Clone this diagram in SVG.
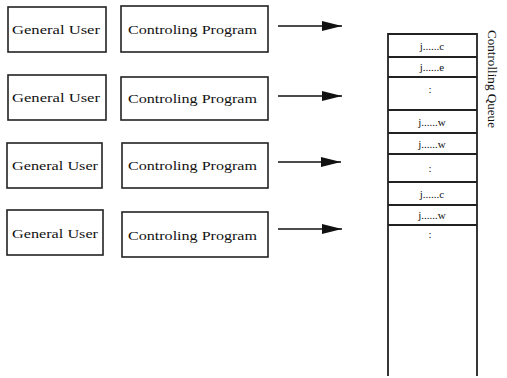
<svg xmlns="http://www.w3.org/2000/svg" width="507" height="378" viewBox="0 0 507 378">
<style>
.box{fill:#fff;stroke:#222;stroke-width:1.6}
.t{font-family:"Liberation Serif",serif;font-size:13px;fill:#111}
.q{font-family:"Liberation Serif",serif;font-size:11px;fill:#111;text-anchor:middle}
.conn{stroke:#111;stroke-width:1.6;fill:none}
.qline{stroke:#222;stroke-width:1.8;fill:none}
</style>
<defs>
<marker id="ah" markerWidth="20" markerHeight="10" refX="20" refY="5" orient="auto" markerUnits="userSpaceOnUse">
<path d="M0,0 L20,5 L0,10 Z" fill="#111"/>
</marker>
</defs>
<rect width="507" height="378" fill="#fff"/>
<g id="user1"><rect class="box" x="8" y="7" width="98" height="45"/><text class="t" x="12" y="34" textLength="88" lengthAdjust="spacingAndGlyphs">General User</text></g>
<g id="prog1"><rect class="box" x="121" y="6" width="147" height="46"/><text class="t" x="128" y="34" textLength="129" lengthAdjust="spacingAndGlyphs">Controling Program</text></g>
<g id="user2"><rect class="box" x="8" y="75" width="98" height="45"/><text class="t" x="12" y="102" textLength="88" lengthAdjust="spacingAndGlyphs">General User</text></g>
<g id="prog2"><rect class="box" x="121" y="77" width="147" height="43"/><text class="t" x="128" y="103" textLength="129" lengthAdjust="spacingAndGlyphs">Controling Program</text></g>
<g id="user3"><rect class="box" x="7" y="143" width="95" height="45"/><text class="t" x="12" y="170" textLength="86" lengthAdjust="spacingAndGlyphs">General User</text></g>
<g id="prog3"><rect class="box" x="122" y="143" width="146" height="45"/><text class="t" x="128" y="170" textLength="129" lengthAdjust="spacingAndGlyphs">Controling Program</text></g>
<g id="user4"><rect class="box" x="7" y="210" width="96" height="45"/><text class="t" x="12" y="238" textLength="86" lengthAdjust="spacingAndGlyphs">General User</text></g>
<g id="prog4"><rect class="box" x="122" y="212" width="146" height="45"/><text class="t" x="128" y="240" textLength="129" lengthAdjust="spacingAndGlyphs">Controling Program</text></g>
<g id="connectors">
<line class="conn" x1="278" y1="26" x2="342" y2="26" marker-end="url(#ah)"/>
<line class="conn" x1="278" y1="96" x2="342" y2="96" marker-end="url(#ah)"/>
<line class="conn" x1="278" y1="162" x2="341" y2="162" marker-end="url(#ah)"/>
<line class="conn" x1="278" y1="229" x2="342" y2="229" marker-end="url(#ah)"/>
</g>
<g id="queue">
<path class="qline" d="M388,376 V34 H477 V376"/>
<line class="qline" x1="388" y1="57" x2="477" y2="57"/>
<line class="qline" x1="388" y1="77" x2="477" y2="77"/>
<line class="qline" x1="388" y1="110" x2="477" y2="110"/>
<line class="qline" x1="388" y1="133" x2="477" y2="133"/>
<line class="qline" x1="388" y1="154" x2="477" y2="154"/>
<line class="qline" x1="388" y1="182" x2="477" y2="182"/>
<line class="qline" x1="388" y1="205" x2="477" y2="205"/>
<line class="qline" x1="388" y1="225" x2="477" y2="225"/>
<text class="q" x="432" y="50">j......c</text>
<text class="q" x="432" y="71">j......e</text>
<text class="q" x="430" y="93">:</text>
<text class="q" x="432" y="126">j......w</text>
<text class="q" x="432" y="148">j......w</text>
<text class="q" x="430" y="172">:</text>
<text class="q" x="432" y="198">j......c</text>
<text class="q" x="432" y="219">j......w</text>
<text class="q" x="430" y="238">:</text>
<text class="t" x="0" y="0" transform="translate(488,30) rotate(90)" textLength="98" lengthAdjust="spacingAndGlyphs">Controlling Queue</text>
</g>
</svg>
